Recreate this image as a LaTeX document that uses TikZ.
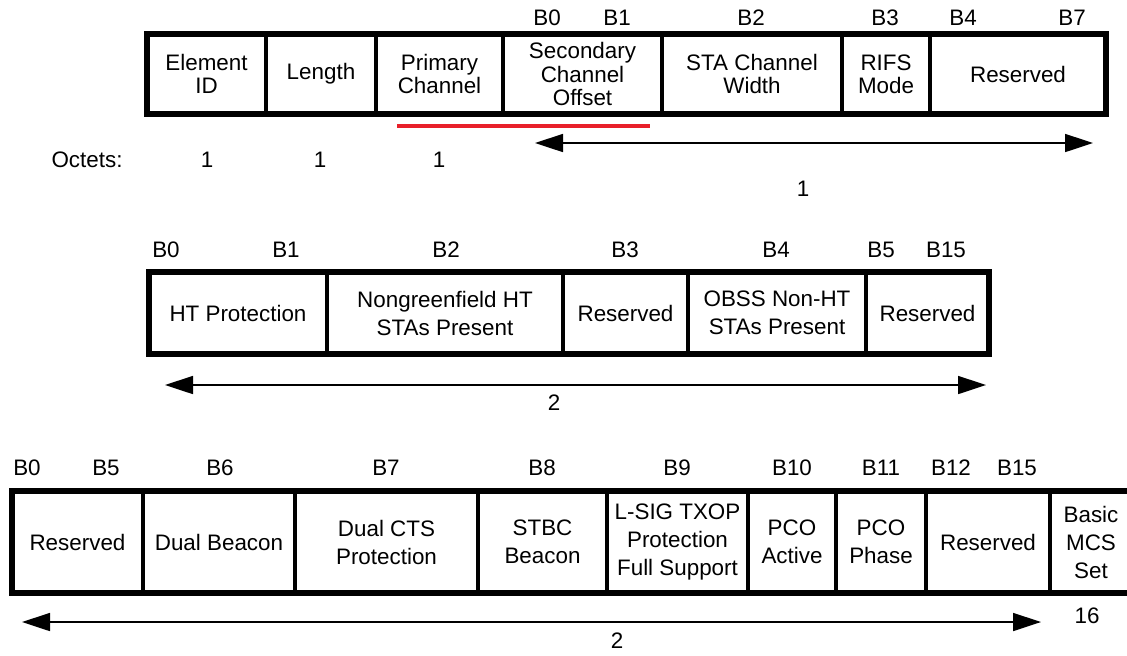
\documentclass[tikz,border=0pt]{standalone}
\usepackage{fontspec}
\setmainfont{Liberation Sans}
\usetikzlibrary{arrows.meta}
\definecolor{redline}{HTML}{E8202A}
\begin{document}
\begin{tikzpicture}[x=0.5pt,y=-0.5pt,
  font=\fontsize{11.2}{11.6}\selectfont,
  cell/.style={draw, line width=2pt, inner sep=0pt, outer sep=0pt, align=center, minimum height=#1},
  wide/.style={font=\fontsize{11.2}{14}\selectfont},
  frame/.style={draw, line width=2.6pt},
  lbl/.style={inner sep=0pt, anchor=center},
  dimarrow/.style={line width=0.8pt, {Triangle[length=14pt,width=9pt]}-{Triangle[length=14pt,width=9pt]}}
]
\useasboundingbox (0,0) rectangle (1127,655);

% ---------- Row 1 ----------
\node[cell=40pt, minimum width=59.5pt] (eid) at (206.5,74) {Element\\ID};
\node[cell=40pt, minimum width=55pt] (len) at (321,74) {Length};
\node[cell=40pt, minimum width=63.5pt] (prim) at (439.5,74) {Primary\\Channel};
\node[cell=40pt, minimum width=79.5pt] (sec) at (582.5,74) {Secondary\\Channel\\Offset};
\node[cell=40pt, minimum width=90pt] (sta) at (752,74) {STA Channel\\Width};
\node[cell=40pt, minimum width=44pt] (rifs) at (886,74) {RIFS\\Mode};
\node[cell=40pt, minimum width=88pt] (res1) at (1018,74) {Reserved};
\draw[frame] (eid.north west) rectangle (res1.south east);

\node[lbl] (b10) at (547,18) {B0};
\node[lbl] (b11) at (617,18) {B1};
\node[lbl] (b12) at (751,18) {B2};
\node[lbl] (b13) at (885,18) {B3};
\node[lbl] (b14) at (963,18) {B4};
\node[lbl] (b17) at (1072,18) {B7};

\coordinate (redL) at (397,126);
\coordinate (redR) at (650,126);
\draw[redline, line width=2pt] (redL) -- (redR);

\coordinate (a1l) at (535,143);
\coordinate (a1r) at (1093,143);
\draw[dimarrow] (a1l) -- (a1r);

\node[lbl] (oct) at (87,160) {Octets:};
\node[lbl] (o1) at (207,160) {1};
\node[lbl] (o2) at (320,160) {1};
\node[lbl] (o3) at (439,160) {1};
\node[lbl] (o4) at (803,189) {1};

% ---------- Row 2 ----------
\begin{scope}[wide]
\node[cell=41pt, minimum width=89pt] (htp) at (238,313) {HT Protection};
\node[cell=41pt, minimum width=118pt] (ngf) at (445,313) {Nongreenfield HT\\STAs Present};
\node[cell=41pt, minimum width=62.5pt] (r2a) at (625.5,313) {Reserved};
\node[cell=41pt, minimum width=89pt] (obss) at (777,313) {OBSS Non-HT\\STAs Present};
\node[cell=41pt, minimum width=61.5pt] (r2b) at (927.5,313) {Reserved};
\end{scope}
\draw[frame] (htp.north west) rectangle (r2b.south east);

\node[lbl] (c0) at (166,250) {B0};
\node[lbl] (c1) at (286,250) {B1};
\node[lbl] (c2) at (446,250) {B2};
\node[lbl] (c3) at (625,250) {B3};
\node[lbl] (c4) at (776,250) {B4};
\node[lbl] (c5) at (881,250) {B5};
\node[lbl] (c15) at (946,250) {B15};

\coordinate (a2l) at (165,385);
\coordinate (a2r) at (986,385);
\draw[dimarrow] (a2l) -- (a2r);
\node[lbl] (two1) at (554,403) {2};

% ---------- Row 3 ----------
\begin{scope}[wide]
\node[cell=51pt, minimum width=65.5pt] (r3a) at (77.5,542) {Reserved};
\node[cell=51pt, minimum width=76pt] (dual) at (219,542) {Dual Beacon};
\node[cell=51pt, minimum width=91.5pt] (dcts) at (386.5,542) {Dual CTS\\Protection};
\node[cell=51pt, minimum width=64.5pt] (stbc) at (542.5,542) {STBC\\Beacon};
\node[cell=51pt, minimum width=70.5pt] (lsig) at (677.5,542) {L-SIG TXOP\\Protection\\Full Support};
\node[cell=51pt, minimum width=44pt] (pcoa) at (792,542) {PCO\\Active};
\node[cell=51pt, minimum width=45pt] (pcop) at (881,542) {PCO\\Phase};
\node[cell=51pt, minimum width=62pt] (r3b) at (988,542) {Reserved};
\node[cell=51pt, minimum width=41pt] (mcs) at (1091,542) {Basic\\MCS\\Set};
\end{scope}
\draw[frame] (r3a.north west) rectangle (mcs.south east);

\node[lbl] (d0) at (27,468) {B0};
\node[lbl] (d5) at (106,468) {B5};
\node[lbl] (d6) at (220,468) {B6};
\node[lbl] (d7) at (386,468) {B7};
\node[lbl] (d8) at (542,468) {B8};
\node[lbl] (d9) at (677,468) {B9};
\node[lbl] (d10) at (792,468) {B10};
\node[lbl] (d11) at (881,468) {B11};
\node[lbl] (d12) at (951,468) {B12};
\node[lbl] (d15) at (1017,468) {B15};

\coordinate (a3l) at (22,622);
\coordinate (a3r) at (1041,622);
\draw[dimarrow] (a3l) -- (a3r);
\node[lbl] (two2) at (617,641) {2};
\node[lbl] (sixteen) at (1087,616) {16};
\end{tikzpicture}
\end{document}
